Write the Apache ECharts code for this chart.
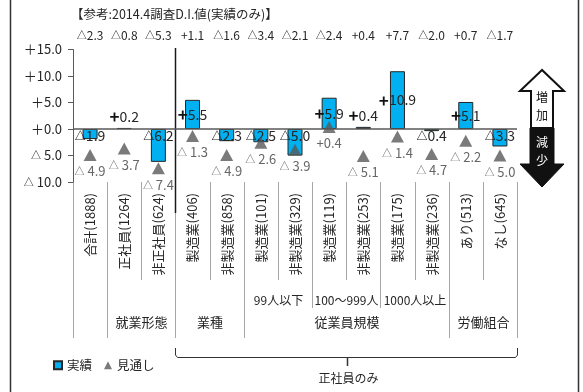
<!DOCTYPE html>
<html>
<head>
<meta charset="utf-8">
<script src="https://cdn.jsdelivr.net/npm/echarts@6/dist/echarts.min.js"></script>
<style>
  html, body { margin: 0; padding: 0; background: #fff; }
  #chart { width: 583px; height: 392px; }
</style>
</head>
<body>
<div id="chart"></div>
<script>
// ---- data ----
const categories = ['合計(1888)', '正社員(1264)', '非正社員(624)', '製造業(406)', '非製造業(858)',
  '製造業(101)', '非製造業(329)', '製造業(119)', '非製造業(253)', '製造業(175)', '非製造業(236)',
  'あり(513)', 'なし(645)'];
const actual  = [-1.9, 0.2, -6.2, 5.5, -2.3, -2.5, -5.0, 5.9, 0.4, 10.9, -0.4, 5.1, -3.3];
const outlook = [-4.9, -3.7, -7.4, -1.3, -4.9, -2.6, -3.9, 0.4, -5.1, -1.4, -4.7, -2.2, -5.0];
const prev2014 = [-2.3, -0.8, -5.3, 1.1, -1.6, -3.4, -2.1, -2.4, 0.4, 7.7, -2.0, 0.7, -1.7];
const prevTitle = '【参考:2014.4調査D.I.値(実績のみ)】';
const seriesNames = ['実績', '見通し'];
const yMin = -10, yMax = 15, yStep = 5;

// category groupings shown under the axis
const groups = [
  { name: '', from: 0, to: 0 },
  { name: '就業形態', from: 1, to: 2 },
  { name: '業種', from: 3, to: 4 },
  { name: '従業員規模', from: 5, to: 10 },
  { name: '労働組合', from: 11, to: 12 }
];
const sizeBands = [
  { name: '99人以下', from: 5, to: 6 },
  { name: '100〜999人', from: 7, to: 8 },
  { name: '1000人以上', from: 9, to: 10 }
];
const regularOnly = { name: '正社員のみ', from: 3, to: 12 };
const arrowUp = ['増', '加'];
const arrowDown = ['減', '少'];

// ---- helpers ----
const FONT = '"Noto Sans CJK JP", "Noto Sans", sans-serif';
const TEXT = '#262626';
const fmtSigned = (v, gap) => (v < 0 ? '{t|△}' + gap : '+' + gap) + Math.abs(v).toFixed(1);
const fmtAxis = v => (v < 0 ? '{t|△} ' : '＋') + Math.abs(v).toFixed(1);

function barLabel(v) {
  const base = {
    show: true,
    color: TEXT,
    fontSize: 14,
    formatter: p => '{s|' + (p.value < 0 ? '△' : '+') + '}' + Math.abs(p.value).toFixed(1),
    rich: { s: { fontWeight: 'bold', fontSize: v < 0 ? 11 : 17, color: '#111' } }
  };
  if (v >= 1) return Object.assign(base, { position: 'inside' });
  if (v >= 0) return Object.assign(base, { position: 'top', distance: 3 });
  return Object.assign(base, { position: 'insideTop', distance: 0 });
}

const chart = echarts.init(document.getElementById('chart'), null, { renderer: 'canvas' });

const option = {
  animation: false,
  backgroundColor: '#fff',
  textStyle: { fontFamily: FONT },
  title: {
    text: prevTitle,
    left: 71, top: 8, padding: 0,
    textStyle: { fontSize: 12.5, fontWeight: 'normal', color: TEXT, fontFamily: FONT }
  },
  legend: {
    left: 48, top: 354,
    itemWidth: 8, itemHeight: 8, itemGap: 12,
    textStyle: { fontSize: 12.5, color: TEXT, fontFamily: FONT },
    data: [
      { name: seriesNames[0], icon: 'rect' },
      { name: seriesNames[1], icon: 'triangle' }
    ]
  },
  grid: { left: 73, right: 66, top: 49.5, bottom: 210, containLabel: false },
  xAxis: [
    {
      type: 'category',
      data: categories,
      position: 'bottom',
      axisLine: { show: false, onZero: false },
      axisTick: { show: false },
      axisLabel: { rotate: 90, margin: 11, fontSize: 13, color: TEXT, fontFamily: FONT, interval: 0 }
    },
    {
      type: 'category',
      data: categories,
      position: 'top',
      axisLine: { show: false },
      axisTick: { show: false },
      axisLabel: {
        margin: 8, fontSize: 12, color: TEXT, fontFamily: FONT, interval: 0,
        formatter: (val, idx) => fmtSigned(prev2014[idx], ''),
        rich: { t: { fontSize: 10, color: TEXT } }
      }
    }
  ],
  yAxis: {
    type: 'value',
    min: yMin, max: yMax, interval: yStep,
    axisLine: { show: true, lineStyle: { color: '#595959', width: 1 } },
    axisTick: { show: true, length: 5, lineStyle: { color: '#595959' } },
    splitLine: { show: false },
    axisLabel: {
      margin: 11, fontSize: 13, color: TEXT, fontFamily: FONT, formatter: fmtAxis,
      rich: { t: { fontSize: 10, color: TEXT } }
    }
  },
  series: [
    {
      name: seriesNames[0],
      type: 'bar',
      barWidth: 15,
      itemStyle: { color: '#00B0F0', borderColor: '#262626', borderWidth: 1 },
      data: actual.map(v => ({ value: v, label: barLabel(v) })),
      markLine: {
        silent: true,
        symbol: 'none',
        label: { show: false },
        lineStyle: { color: '#595959', width: 1.5, type: 'solid' },
        data: [{ yAxis: 0 }]
      },
      z: 2
    },
    {
      name: seriesNames[1],
      type: 'scatter',
      symbol: 'triangle',
      symbolSize: [13, 12],
      itemStyle: { color: '#595959' },
      label: {
        show: true, position: 'bottom', distance: 4,
        fontSize: 13, color: '#404040', fontFamily: FONT,
        formatter: p => fmtSigned(p.value, p.value < 0 ? ' ' : ''),
        rich: { t: { fontSize: 10, color: '#404040' } }
      },
      data: outlook,
      z: 3
    }
  ]
};

chart.setOption(option);

// ---- decorations placed from the axis scale ----
const px = i => chart.convertToPixel({ xAxisIndex: 0 }, i);
const step = px(1) - px(0);
const edge = k => Math.round(px(0) + (k - 0.5) * step) + 0.5;   // left boundary of category k
const yBottom = chart.convertToPixel({ yAxisIndex: 0 }, yMin);
const yTop = chart.convertToPixel({ yAxisIndex: 0 }, yMax);

const groupEdges = new Set();
groups.forEach(g => { groupEdges.add(g.from); groupEdges.add(g.to + 1); });
const bandEdges = new Set();
sizeBands.forEach(b => { bandEdges.add(b.from); bandEdges.add(b.to + 1); });

const gfx = [];
const line = (x1, y1, x2, y2, stroke, w) => gfx.push({
  type: 'line', silent: true,
  shape: { x1, y1, x2, y2 },
  style: { stroke, lineWidth: w }
});
const label = (text, x, y, size, fill) => gfx.push({
  type: 'text', silent: true,
  style: {
    text, x, y, fill, font: size + 'px ' + FONT,
    textAlign: 'center', textVerticalAlign: 'middle', align: 'center', verticalAlign: 'middle'
  }
});

// separators between categories
for (let k = 0; k <= categories.length; k++) {
  let end = 280;
  if (groupEdges.has(k)) end = 338;
  else if (bandEdges.has(k)) end = 308;
  line(edge(k), yBottom, edge(k), end, '#A6A6A6', 1);
}
// divider in front of the regular-employee block
line(edge(regularOnly.from), yTop - 1.5, edge(regularOnly.from), 213, '#1a1a1a', 1.5);

// band and group captions
sizeBands.forEach(b => label(b.name, (edge(b.from) + edge(b.to + 1)) / 2, 300, 12, TEXT));
groups.forEach(g => { if (g.name) label(g.name, (edge(g.from) + edge(g.to + 1)) / 2, 322, 13, TEXT); });

// bracket under the regular-employee block
const bL = edge(regularOnly.from), bR = edge(regularOnly.to + 1), bMid = (bL + bR) / 2;
gfx.push({
  type: 'polyline', silent: true,
  shape: { points: [[bL, 348], [bL, 355], [bL + 2, 357.5], [bR - 2, 357.5], [bR, 355], [bR, 348]] },
  style: { stroke: '#333', lineWidth: 1, fill: null }
});
line(Math.round(bMid) + 0.5, 357.5, Math.round(bMid) + 0.5, 366, '#333', 1.5);
label(regularOnly.name, bMid + 2, 378, 12, TEXT);

// up / down arrow key
gfx.push({
  type: 'polygon', silent: true,
  shape: { points: [[542, 70], [520, 91], [531, 91], [531, 128], [553, 128], [553, 91], [564, 91]] },
  style: { fill: '#fff', stroke: '#111', lineWidth: 2 }
});
gfx.push({
  type: 'polygon', silent: true,
  shape: { points: [[530, 128], [554, 128], [554, 164], [564, 164], [542, 187], [520, 164], [530, 164]] },
  style: { fill: '#111', stroke: '#111', lineWidth: 1 }
});
label(arrowUp[0], 542, 97, 12, '#111');
label(arrowUp[1], 542, 115, 12, '#111');
label(arrowDown[0], 542, 142, 12, '#fff');
label(arrowDown[1], 542, 160, 12, '#fff');

// outer frame edges
line(10.5, 0, 10.5, 392, '#333', 1.5);
line(578.5, 0, 578.5, 392, '#333', 1.5);

chart.setOption({ graphic: { elements: gfx } });
</script>
</body>
</html>
